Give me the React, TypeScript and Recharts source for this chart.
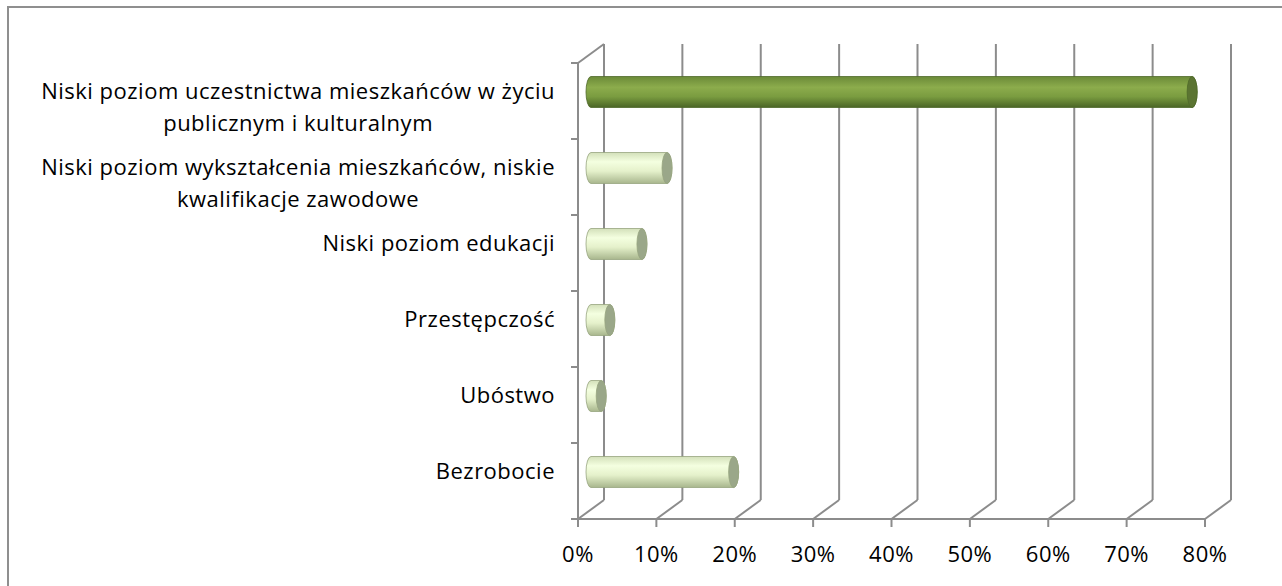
import { BarChart, Bar, XAxis, YAxis, CartesianGrid } from 'recharts';

const categories = [
  'Niski poziom uczestnictwa mieszkańców w życiu\npublicznym i kulturalnym',
  'Niski poziom wykształcenia mieszkańców, niskie\nkwalifikacje zawodowe',
  'Niski poziom edukacji',
  'Przestępczość',
  'Ubóstwo',
  'Bezrobocie',
];
const shares = [76.7, 9.7, 6.5, 2.4, 1.3, 18.2];
const tones = ['dark', 'light', 'light', 'light', 'light', 'light'];
const xTicks = [0, 10, 20, 30, 40, 50, 60, 70, 80];

const data = categories.map((name, i) => ({ name, value: shares[i], tone: tones[i] }));

const W = 1282;
const H = 586;
const MARGIN = { top: 63, right: 77, bottom: 27, left: 0 };
const Y_AXIS_W = 578;
const X_AXIS_H = 40;
const DX = 26;
const DY = -19;
const AXIS_COLOR = '#8c8c8c';
const FONT = '"Open Sans", sans-serif';
const FONT_SIZE = 22;
const LETTER = 0.5;
const LINE_GAP = 32;
const BAND = (H - MARGIN.top - MARGIN.bottom - X_AXIS_H) / categories.length;

const palette: Record<string, { stops: [number, string][]; cap: string; edge: string }> = {
  dark: {
    stops: [
      [0, '#6b8a38'],
      [0.35, '#8cac4c'],
      [0.65, '#7a9c40'],
      [1, '#4a6526'],
    ],
    cap: '#5b7432',
    edge: '#4f6a2a',
  },
  light: {
    stops: [
      [0, '#d3e0ba'],
      [0.3, '#f4ffe0'],
      [0.6, '#e5f1cb'],
      [1, '#a8b68d'],
    ],
    cap: '#9aa789',
    edge: '#97a57f',
  },
};

let ctx: CanvasRenderingContext2D | null = null;
const textWidth = (s: string) => {
  if (!ctx) {
    ctx = document.createElement('canvas').getContext('2d');
  }
  if (!ctx) return s.length * FONT_SIZE * 0.5;
  ctx.font = `${FONT_SIZE}px ${FONT}`;
  return ctx.measureText(s).width + s.length * LETTER;
};

const gridLine = (props: any) => {
  const { x1, y1, y2, key } = props;
  const atLeft = Math.abs(x1 - Y_AXIS_W) < 1;
  return (
    <g key={key} stroke={AXIS_COLOR} strokeWidth={2}>
      <line x1={x1 + DX} y1={y1 + DY} x2={x1 + DX} y2={y2 + DY} />
      <line x1={x1} y1={y2} x2={x1 + DX} y2={y2 + DY} />
      {atLeft && <line x1={x1} y1={y1} x2={x1 + DX} y2={y1 + DY} />}
    </g>
  );
};

const CategoryTick = (props: any) => {
  const { y, payload, index } = props;
  const lines = String(payload.value).split('\n');
  const right = Y_AXIS_W - 23;
  const y0 = y + DY / 2;
  const widest = Math.max(...lines.map(textWidth));
  const last = index === categories.length - 1;
  return (
    <g>
      <line x1={Y_AXIS_W - 7} x2={Y_AXIS_W} y1={y - BAND / 2} y2={y - BAND / 2} stroke={AXIS_COLOR} strokeWidth={2} />
      {last && (
        <line x1={Y_AXIS_W - 7} x2={Y_AXIS_W} y1={y + BAND / 2} y2={y + BAND / 2} stroke={AXIS_COLOR} strokeWidth={2} />
      )}
      {lines.map((line, i) => (
        <text
          key={i}
          x={lines.length > 1 ? right - widest / 2 : right}
          y={y0 + i * LINE_GAP}
          dy="0.35em"
          textAnchor={lines.length > 1 ? 'middle' : 'end'}
          fill="#000"
          fontFamily={FONT}
          fontSize={FONT_SIZE}
          letterSpacing={LETTER}
        >
          {line}
        </text>
      ))}
    </g>
  );
};

const Cylinder = (props: any) => {
  const { x, y, width, height, index, payload } = props;
  const p = palette[payload.tone];
  const rx = 5;
  const ry = height / 2;
  const x0 = x + DX / 2;
  const x1 = x + width + DX / 2;
  const yt = y + DY / 2;
  const yb = yt + height;
  const id = `cyl-${index}`;
  const d = `M${x0},${yt} L${x1},${yt} A${rx},${ry} 0 0 1 ${x1},${yb} L${x0},${yb} A${rx},${ry} 0 0 1 ${x0},${yt} Z`;
  return (
    <g>
      <defs>
        <linearGradient id={id} x1="0" y1="0" x2="0" y2="1">
          {p.stops.map(([o, c]) => (
            <stop key={o} offset={o} stopColor={c} />
          ))}
        </linearGradient>
      </defs>
      <path d={d} fill={`url(#${id})`} stroke={p.edge} strokeWidth={0.8} />
      <ellipse cx={x1} cy={yt + ry} rx={rx} ry={ry} fill={p.cap} stroke={p.edge} strokeWidth={0.8} />
    </g>
  );
};

const App = () => {
  return (
    <div style={{ position: 'absolute', left: 0, top: 0, width: W, height: H, overflow: 'hidden', background: '#fff' }}>
      <div
        style={{
          position: 'absolute',
          left: 7,
          top: 6,
          width: W + 20,
          height: H + 20,
          border: '2px solid #8f8f8f',
        }}
      />
      <div style={{ position: 'absolute', left: 0, top: 0 }}>
        <BarChart width={W} height={H} data={data} layout="vertical" margin={MARGIN} barSize={31}>
          <CartesianGrid horizontal={false} vertical={gridLine} />
          <XAxis
            type="number"
            domain={[0, 80]}
            ticks={xTicks}
            interval={0}
            height={X_AXIS_H}
            tickFormatter={(v) => `${v}%`}
            axisLine={{ stroke: AXIS_COLOR, strokeWidth: 2 }}
            tickLine={{ stroke: AXIS_COLOR, strokeWidth: 2 }}
            tickSize={8}
            tickMargin={19}
            tick={{ fill: '#000', fontFamily: FONT, fontSize: FONT_SIZE, letterSpacing: LETTER }}
          />
          <YAxis
            type="category"
            dataKey="name"
            width={Y_AXIS_W}
            interval={0}
            axisLine={{ stroke: AXIS_COLOR, strokeWidth: 2 }}
            tickLine={false}
            tick={<CategoryTick />}
          />
          <Bar dataKey="value" shape={<Cylinder />} isAnimationActive={false} />
        </BarChart>
      </div>
    </div>
  );
};

export default App;
